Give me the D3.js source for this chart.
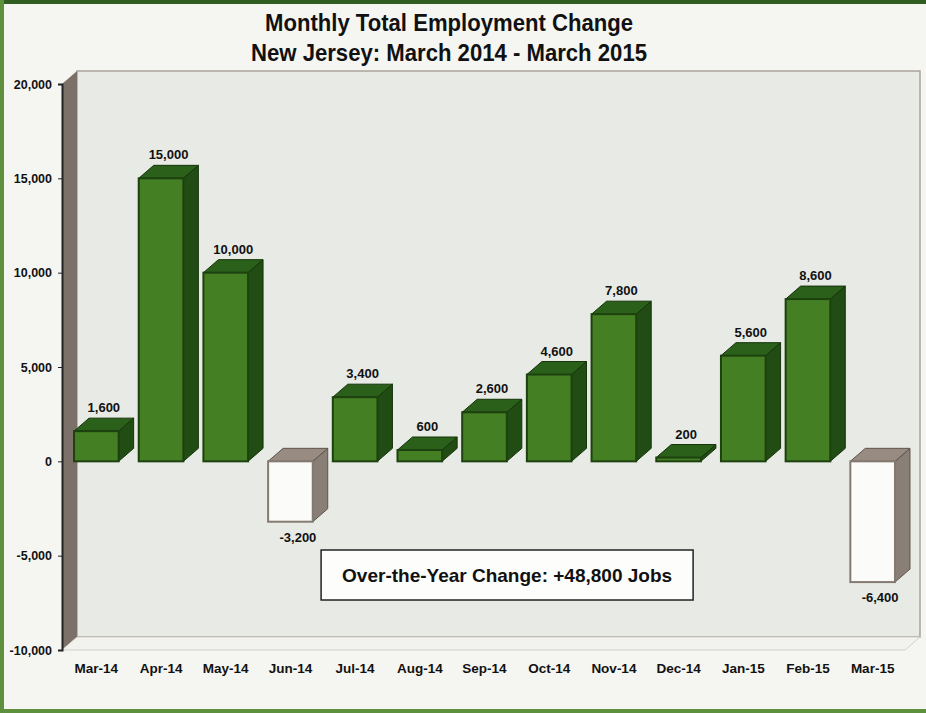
<!DOCTYPE html>
<html>
<head>
<meta charset="utf-8">
<script src="https://cdn.jsdelivr.net/npm/d3@7"></script>
<style>
  body { margin: 0; background: #f4f6f1; }
  svg { display: block; }
  .tick text { font-family: "Liberation Sans", Arial, sans-serif; font-weight: bold; font-size: 12.5px; fill: #111; }
</style>
</head>
<body>
<div id="chart"></div>
<script>
// chart data
var months = ["Mar-14", "Apr-14", "May-14", "Jun-14", "Jul-14", "Aug-14", "Sep-14",
              "Oct-14", "Nov-14", "Dec-14", "Jan-15", "Feb-15", "Mar-15"];
var changes = [1600, 15000, 10000, -3200, 3400, 600, 2600, 4600, 7800, 200, 5600, 8600, -6400];
var yTicks = [20000, 15000, 10000, 5000, 0, -5000, -10000];
var yTickLabels = ["20,000", "15,000", "10,000", "5,000", "0", "-5,000", "-10,000"];
var titleLines = ["Monthly Total Employment Change", "New Jersey: March 2014 - March 2015"];
var note = "Over-the-Year Change: +48,800 Jobs";

var svgWidth = 926, svgHeight = 713;
var margin = {top: 84, right: 21, bottom: 63, left: 62};
var depth = {dx: 15, dy: -13};   // fake 3d offset

var svg = d3.select("#chart").append("svg")
  .attr("width", svgWidth)
  .attr("height", svgHeight);

// scan border in green
svg.append("rect").attr("width", svgWidth).attr("height", svgHeight).attr("fill", "#f5f6f2");
svg.append("rect").attr("width", svgWidth).attr("height", 4).attr("fill", "#2f5d22");
svg.append("rect").attr("width", 4).attr("height", svgHeight).attr("fill", "#5e8f3c");
svg.append("rect").attr("y", svgHeight - 4).attr("width", svgWidth).attr("height", 4).attr("fill", "#5e8f3c");

var x = d3.scaleBand()
  .domain(months)
  .range([margin.left + 2, svgWidth - margin.right])
  .paddingInner(0.31)
  .paddingOuter(0.155);

var y = d3.scaleLinear()
  .domain([-10000, 20000])
  .range([svgHeight - margin.bottom, margin.top]);

var x0 = margin.left, x1 = svgWidth - margin.right;
var yT = y(20000), yB = y(-10000);

// back wall
svg.append("polygon")
  .attr("points", [[x0 + depth.dx, yT + depth.dy], [x1 + depth.dx, yT + depth.dy],
                   [x1 + depth.dx, yB + depth.dy], [x0 + depth.dx, yB + depth.dy]].join(" "))
  .attr("fill", "#e8eae5")
  .attr("stroke", "#a9a39b")
  .attr("stroke-width", 1.5);

// left side wall
svg.append("polygon")
  .attr("points", [[x0, yT], [x0 + depth.dx, yT + depth.dy],
                   [x0 + depth.dx, yB + depth.dy], [x0, yB]].join(" "))
  .attr("fill", "#7c7169");

// floor
svg.append("polygon")
  .attr("points", [[x0, yB], [x0 + depth.dx, yB + depth.dy],
                   [x1 + depth.dx, yB + depth.dy], [x1, yB]].join(" "))
  .attr("fill", "#f2f3ef")
  .attr("stroke", "#c9c6c0")
  .attr("stroke-width", 0.8);

// bars
var bars = svg.append("g").selectAll("g")
  .data(months.map(function(m, i) { return {month: m, value: changes[i]}; }))
  .join("g");

function faces(d) {
  var bx = x(d.month), w = x.bandwidth();
  var top = Math.min(y(0), y(d.value)), bot = Math.max(y(0), y(d.value));
  return {bx: bx, w: w, top: top, bot: bot};
}

bars.append("polygon")   // side
  .attr("points", function(d) {
    var f = faces(d);
    return [[f.bx + f.w, f.top], [f.bx + f.w + depth.dx, f.top + depth.dy],
            [f.bx + f.w + depth.dx, f.bot + depth.dy], [f.bx + f.w, f.bot]].join(" ");
  })
  .attr("fill", function(d) { return d.value < 0 ? "#8a7f76" : "#214c13"; })
  .attr("stroke", function(d) { return d.value < 0 ? "#5d544c" : "#143309"; })
  .attr("stroke-width", 1);

bars.append("polygon")   // top
  .attr("points", function(d) {
    var f = faces(d);
    return [[f.bx, f.top], [f.bx + depth.dx, f.top + depth.dy],
            [f.bx + f.w + depth.dx, f.top + depth.dy], [f.bx + f.w, f.top]].join(" ");
  })
  .attr("fill", function(d) { return d.value < 0 ? "#978b82" : "#2b601a"; })
  .attr("stroke", function(d) { return d.value < 0 ? "#5d544c" : "#143309"; })
  .attr("stroke-width", 1);

bars.append("rect")      // front
  .attr("x", function(d) { return faces(d).bx; })
  .attr("y", function(d) { return faces(d).top; })
  .attr("width", x.bandwidth())
  .attr("height", function(d) { var f = faces(d); return Math.max(0.5, f.bot - f.top); })
  .attr("fill", function(d) { return d.value < 0 ? "#fbfbfa" : "#457f23"; })
  .attr("stroke", function(d) { return d.value < 0 ? "#857a70" : "#1d420f"; })
  .attr("stroke-width", 2);

// value labels
bars.append("text")
  .attr("x", function(d) { return x(d.month) + x.bandwidth() / 2 + depth.dx / 2; })
  .attr("y", function(d) {
    return d.value < 0 ? y(d.value) + 20 : y(d.value) + depth.dy - 6;
  })
  .attr("text-anchor", "middle")
  .attr("font-family", "Liberation Sans, Arial, sans-serif")
  .attr("font-weight", "bold")
  .attr("font-size", 13)
  .attr("fill", "#111")
  .text(function(d) { return (d.value < 0 ? "-" : "") + d3.format(",")(Math.abs(d.value)); });

// y axis
svg.append("g")
  .attr("transform", "translate(" + x0 + ",0)")
  .call(d3.axisLeft(y).tickValues(yTicks).tickSize(4).tickPadding(6)
        .tickFormat(function(d, i) { return yTickLabels[i]; }))
  .call(function(g) { g.select(".domain").attr("stroke", "#222").attr("stroke-width", 2); })
  .call(function(g) { g.selectAll(".tick line").attr("stroke", "#222"); });

// x labels
svg.append("g").selectAll("text")
  .data(months)
  .join("text")
  .attr("x", function(d) { return x(d) + x.bandwidth() / 2; })
  .attr("y", yB + 23)
  .attr("text-anchor", "middle")
  .attr("font-family", "Liberation Sans, Arial, sans-serif")
  .attr("font-weight", "bold")
  .attr("font-size", 13.5)
  .attr("fill", "#111")
  .text(function(d) { return d; });

// title, condensed to the scanned widths
var titleWidths = [368, 396];
svg.append("g").selectAll("text")
  .data(titleLines)
  .join("text")
  .attr("x", 449)
  .attr("y", function(d, i) { return 31 + i * 30; })
  .attr("text-anchor", "middle")
  .attr("textLength", function(d, i) { return titleWidths[i]; })
  .attr("lengthAdjust", "spacingAndGlyphs")
  .attr("font-family", "Liberation Sans, Arial, sans-serif")
  .attr("font-weight", "bold")
  .attr("font-size", 24)
  .attr("fill", "#111")
  .text(function(d) { return d; });

// annotation box
var noteBox = svg.append("g").attr("transform", "translate(" + x(months[3]) + "," + y(-4700) + ")");
noteBox.append("rect")
  .attr("x", 53).attr("width", 372).attr("height", 50)
  .attr("fill", "#fdfdfc")
  .attr("stroke", "#222")
  .attr("stroke-width", 1.5);
noteBox.append("text")
  .attr("x", 53 + 186).attr("y", 32)
  .attr("text-anchor", "middle")
  .attr("font-family", "Liberation Sans, Arial, sans-serif")
  .attr("font-weight", "bold")
  .attr("font-size", 19)
  .attr("fill", "#111")
  .text(note);
</script>
</body>
</html>
